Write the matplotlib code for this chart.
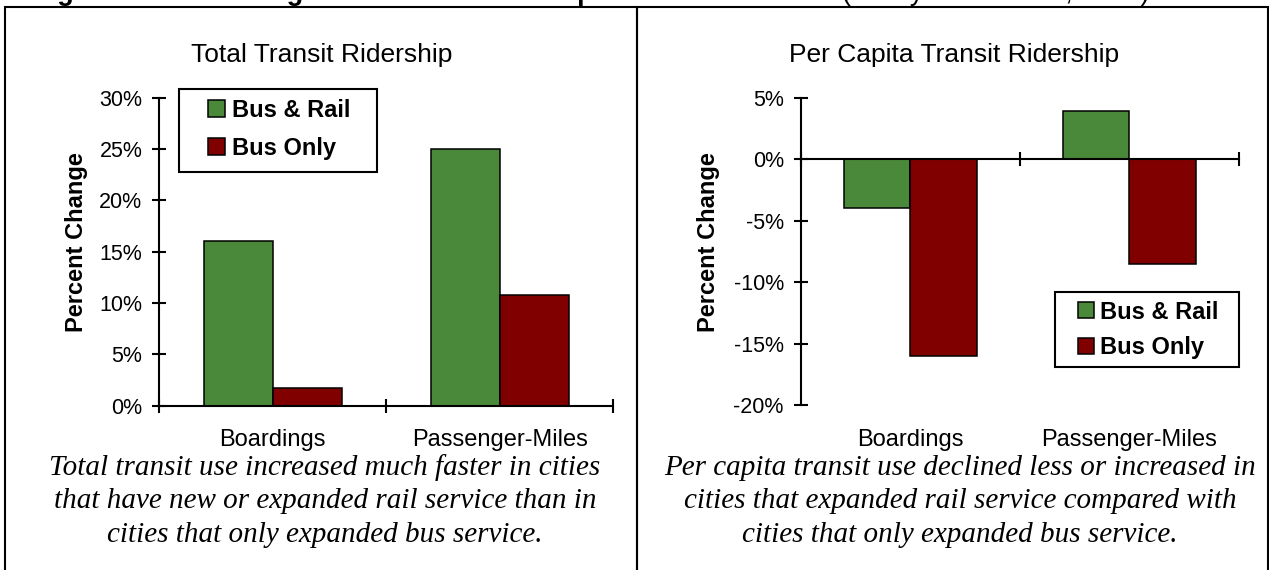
import matplotlib
matplotlib.use("Agg")
import matplotlib.pyplot as plt
from matplotlib.patches import Rectangle
from matplotlib.ticker import FuncFormatter, FixedLocator
from matplotlib.transforms import blended_transform_factory
import numpy as np

plt.rcParams['font.family'] = ['Liberation Sans', 'DejaVu Sans']
plt.rcParams['axes.unicode_minus'] = False

# ---------------- data ----------------
categories = ["Boardings", "Passenger-Miles"]
series_names = ["Bus & Rail", "Bus Only"]
series_colors = ["#4a893a", "#800000"]

total_bus_rail = [16.0, 25.0]
total_bus_only = [1.7, 10.8]
percap_bus_rail = [-4.0, 3.9]
percap_bus_only = [-16.0, -8.5]

total_title = "Total Transit Ridership"
percap_title = "Per Capita Transit Ridership"
y_label = "Percent Change"
total_yticks = [0, 5, 10, 15, 20, 25, 30]
percap_yticks = [-20, -15, -10, -5, 0, 5]

total_caption = ["Total transit use increased much faster in cities",
                 "that have new or expanded rail service than in",
                 "cities that only expanded bus service."]
percap_caption = ["Per capita transit use declined less or increased in",
                  "cities that expanded rail service compared with",
                  "cities that only expanded bus service."]
figure_title_parts = ["Figure 3", "Changes in Transit Ridership Rates",
                      "(Henry and Litman, 2006)"]

# ---------------- layout helpers ----------------
W, H = 1269, 570
fig = plt.figure(figsize=(W / 100, H / 100), dpi=100)


def fx(px):
    return px / W


def fy(py):
    return 1 - py / H


def add_axes_px(x0, y_top, x1, y_bot):
    return fig.add_axes([fx(x0), fy(y_bot), fx(x1) - fx(x0), fy(y_top) - fy(y_bot)])


BAR_W = 0.304
EDGE_LW = 1.1


def make_chart(ax, rail, bus, yticks, zero_spine):
    x = np.arange(len(categories))
    ax.bar(x - BAR_W / 2, rail, BAR_W, color=series_colors[0], edgecolor='black',
           linewidth=EDGE_LW, zorder=2)
    ax.bar(x + BAR_W / 2, bus, BAR_W, color=series_colors[1], edgecolor='black',
           linewidth=EDGE_LW, zorder=2)
    ax.set_xlim(-0.5, len(categories) - 0.5)
    ax.set_ylim(min(yticks), max(yticks))
    ax.patch.set_visible(False)
    for s in ['top', 'right']:
        ax.spines[s].set_visible(False)
    for s in ['left', 'bottom']:
        ax.spines[s].set_linewidth(1.5)
        ax.spines[s].set_zorder(3)
    if zero_spine:
        ax.spines['bottom'].set_position(('data', 0))
    ax.set_yticks(yticks)
    ax.yaxis.set_major_formatter(FuncFormatter(lambda v, p: f"{v:.0f}%"))
    ax.tick_params(axis='y', direction='inout', length=9.5, width=1.5, pad=7.5,
                   labelsize=15.5)
    ax.set_xticks([])
    ax.xaxis.set_minor_locator(FixedLocator(np.arange(-0.5, len(categories), 1.0)))
    ax.tick_params(axis='x', which='minor', direction='inout', length=10.5, width=1.5)
    tr = blended_transform_factory(ax.transData, fig.transFigure)
    for xi, cat in zip(x, categories):
        ax.text(xi, fy(446), cat, transform=tr, ha='center', va='baseline',
                fontsize=17, clip_on=False)


def draw_legend(box, patch_x, patch_size, text_x, row_ys):
    x0, y0, x1, y1 = box
    fig.add_artist(Rectangle((fx(x0), fy(y1)), fx(x1) - fx(x0), fy(y0) - fy(y1),
                             transform=fig.transFigure, facecolor='white',
                             edgecolor='black', lw=1.5, zorder=5))
    for name, color, ry in zip(series_names, series_colors, row_ys):
        fig.add_artist(Rectangle((fx(patch_x), fy(ry + patch_size / 2)),
                                 fx(patch_size), patch_size / H,
                                 transform=fig.transFigure, facecolor=color,
                                 edgecolor='black', lw=1.1, zorder=6))
        fig.text(fx(text_x), fy(ry + 8.5), name, ha='left', va='baseline',
                 fontsize=17, fontweight='bold', zorder=6)


# panel frames
for (x0, x1) in [(5, 637), (637, 1267.5)]:
    fig.add_artist(Rectangle((fx(x0), fy(800)), fx(x1) - fx(x0), fy(7) - fy(800),
                             transform=fig.transFigure, fill=False,
                             edgecolor='black', lw=1.5, zorder=1))

# cut-off figure title at the top
fig.text(fx(33), fy(-0.5), figure_title_parts[0], fontsize=19.5, fontweight='bold',
         va='baseline', ha='left')
fig.text(fx(219), fy(-0.5), figure_title_parts[1], fontsize=19.5, fontweight='bold',
         va='baseline', ha='left')
fig.text(fx(842), fy(-0.5), figure_title_parts[2], fontsize=19.5,
         va='baseline', ha='left')

# left chart
ax1 = add_axes_px(159.4, 97.7, 613, 405.6)
make_chart(ax1, total_bus_rail, total_bus_only, total_yticks, zero_spine=False)
fig.text(fx(321.8), fy(62), total_title, ha='center', va='baseline', fontsize=19)
fig.text(fx(77), fy(242), y_label, rotation=90, ha='center', va='center',
         fontsize=17, fontweight='bold')
draw_legend((179, 89, 377, 171.7), 208.4, 17, 232, [108.7, 146.7])

# right chart
ax2 = add_axes_px(800.8, 97.7, 1239, 405.2)
make_chart(ax2, percap_bus_rail, percap_bus_only, percap_yticks, zero_spine=True)
fig.text(fx(954), fy(62), percap_title, ha='center', va='baseline', fontsize=19)
fig.text(fx(708.7), fy(242), y_label, rotation=90, ha='center', va='center',
         fontsize=17, fontweight='bold')
draw_legend((1055, 291.7, 1239, 367.3), 1077.5, 16, 1100, [310.3, 345.8])

# captions
for cx, lines in [(325, total_caption), (960, percap_caption)]:
    for i, line in enumerate(lines):
        fig.text(fx(cx), fy(475 + 33.5 * i), line, ha='center', va='baseline',
                 family=['Liberation Serif', 'DejaVu Serif'], style='italic',
                 fontsize=21)

fig.savefig("out.png", dpi=100)
